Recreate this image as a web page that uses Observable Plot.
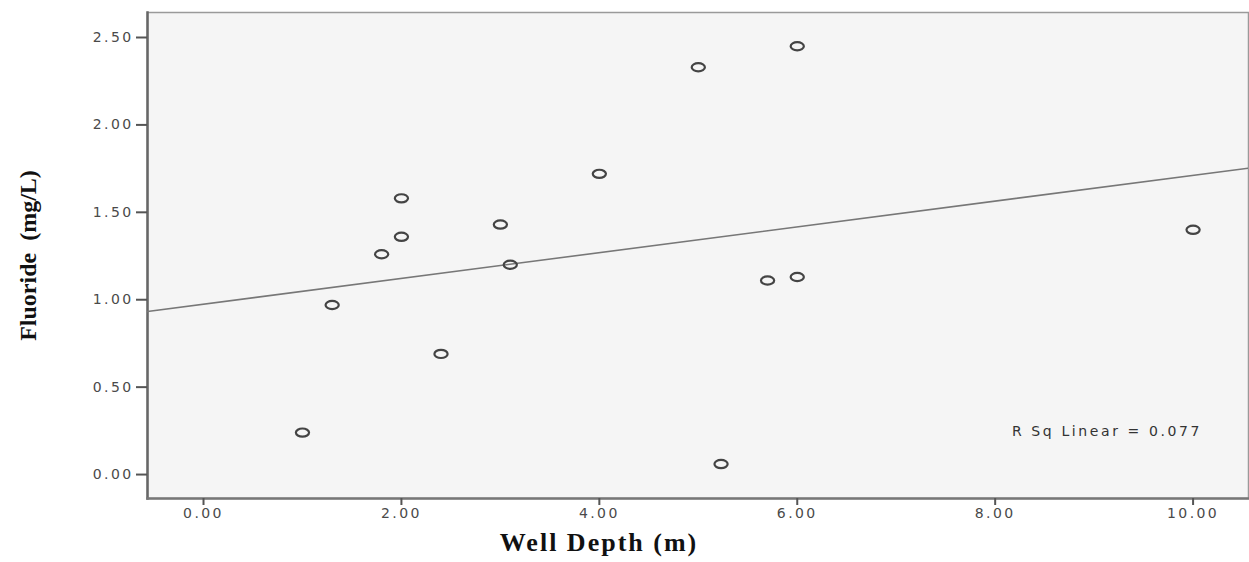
<!DOCTYPE html>
<html>
<head>
<meta charset="utf-8">
<script src="https://cdn.jsdelivr.net/npm/d3@7"></script>
<script src="https://cdn.jsdelivr.net/npm/@observablehq/plot@0.6"></script>
<style>
  html, body { margin: 0; padding: 0; background: #fff; }
  #chart svg { display: block; }
  #chart g[aria-label="y-axis tick label"] text,
  #chart g[aria-label="x-axis tick label"] text {
    letter-spacing: 2.4px; font-size: 14px; font-family: 'DejaVu Sans', sans-serif;
  }
</style>
</head>
<body>
<div id="chart"></div>
<script>
// Well depth (m) for each sampled well
const wellDepth = [1.0, 1.3, 1.8, 2.0, 2.0, 2.4, 3.0, 3.1, 4.0, 5.0, 5.23, 5.7, 6.0, 6.0, 10.0];
// Fluoride concentration (mg/L)
const fluoride  = [0.24, 0.97, 1.26, 1.36, 1.58, 0.69, 1.43, 1.20, 1.72, 2.33, 0.06, 1.11, 1.13, 2.45, 1.40];
// Axis ticks
const xTicks = [0, 2, 4, 6, 8, 10];
const yTicks = [0, 0.5, 1.0, 1.5, 2.0, 2.5];
const rsqLabel = ["R Sq Linear = 0.077"];
const xLabel = ["Well Depth (m)"];
const yLabel = ["Fluoride  (mg/L)"];

const data = wellDepth.map((x, i) => ({x, y: fluoride[i]}));

// least-squares fit computed from the data
const mx = d3.mean(wellDepth), my = d3.mean(fluoride);
const sxy = d3.sum(data, d => (d.x - mx) * (d.y - my));
const sxx = d3.sum(data, d => (d.x - mx) ** 2);
const slope = sxy / sxx;
const intercept = my - slope * mx;

const xDomain = [-0.566, 10.56];
const yDomain = [-0.137, 2.643];
const fitLine = xDomain.map(x => ({x, y: intercept + slope * x}));

const ellipse = {
  draw(ctx) {
    const rx = 6.6, ry = 4.1, k = 0.5523;
    ctx.moveTo(rx, 0);
    ctx.bezierCurveTo(rx, k * ry, k * rx, ry, 0, ry);
    ctx.bezierCurveTo(-k * rx, ry, -rx, k * ry, -rx, 0);
    ctx.bezierCurveTo(-rx, -k * ry, -k * rx, -ry, 0, -ry);
    ctx.bezierCurveTo(k * rx, -ry, rx, -k * ry, rx, 0);
    ctx.closePath();
  }
};

const plot = Plot.plot({
  width: 1249,
  height: 562,
  marginLeft: 147,
  marginRight: 1,
  marginTop: 12,
  marginBottom: 64,
  style: {fontFamily: "'Liberation Sans', Arial, sans-serif", background: "#fff"},
  x: {domain: xDomain},
  y: {domain: yDomain},
  marks: [
    Plot.frame({fill: "#f5f5f5", stroke: "#9a9a9a", strokeWidth: 1.5}),
    Plot.frame({anchor: "left", stroke: "#666", strokeWidth: 2.5}),
    Plot.frame({anchor: "bottom", stroke: "#777", strokeWidth: 2.5}),
    Plot.axisY({ticks: yTicks, tickFormat: d => d.toFixed(2), tickSize: 11, tickPadding: 3,
      fill: "#4a4a4a", stroke: "#555", strokeWidth: 2, label: null}),
    Plot.axisX({ticks: xTicks, tickFormat: d => d.toFixed(2), tickSize: 7, tickPadding: 3,
      fill: "#4a4a4a", stroke: "#555", strokeWidth: 2, label: null}),
    Plot.line(fitLine, {x: "x", y: "y", stroke: "#777", strokeWidth: 1.6, clip: true}),
    Plot.dot(data, {x: "x", y: "y", symbol: ellipse, stroke: "#444", strokeWidth: 2.2, fill: "none"}),
    Plot.text(rsqLabel, {x: 8.17, y: 0.245, text: d => d, textAnchor: "start", fontSize: 14, fill: "#333",
      fontFamily: "'DejaVu Sans', sans-serif"}),
    Plot.text(xLabel, {frameAnchor: "bottom", dx: -99, dy: 52, text: d => d, fontSize: 26, fontWeight: "bold",
      fontFamily: "'Liberation Serif', 'Times New Roman', serif", fill: "#111"}),
    Plot.text(yLabel, {frameAnchor: "left", dx: -119, rotate: -90, text: d => d, textAnchor: "middle",
      fontSize: 24, fontWeight: "bold",
      fontFamily: "'Liberation Serif', 'Times New Roman', serif", fill: "#111"})
  ]
});
document.getElementById("chart").appendChild(plot);

// horizontal spacing of the SPSS-style text
d3.select(plot).selectAll("text")
  .filter(function() { return this.textContent === rsqLabel[0]; })
  .style("letter-spacing", "2.6px");
d3.select(plot).selectAll("text")
  .filter(function() { return this.textContent === xLabel[0]; })
  .style("letter-spacing", "2px");
</script>
</body>
</html>
